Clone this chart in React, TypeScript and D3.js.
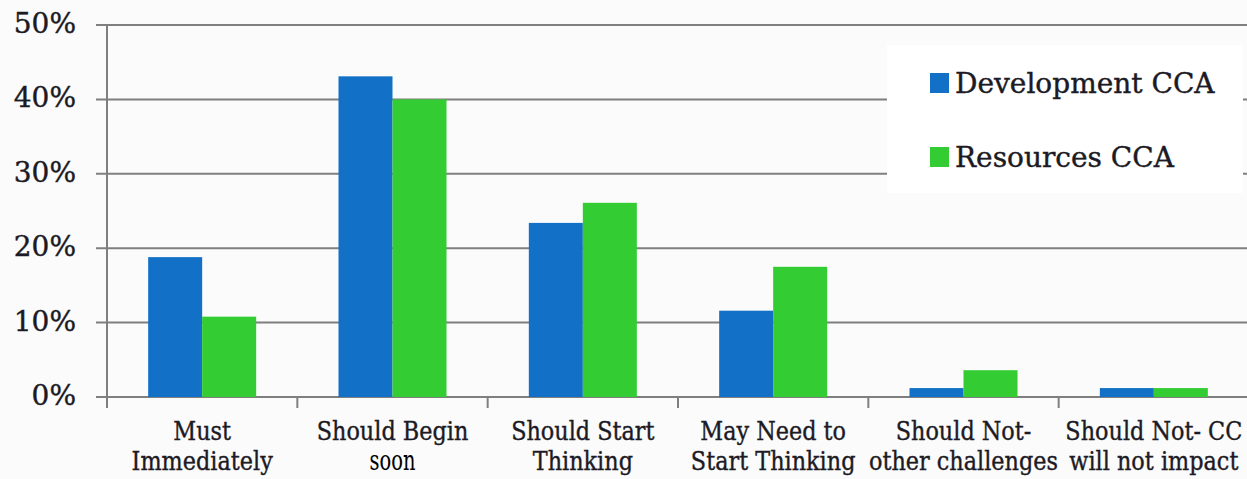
import React from "react";
import * as d3 from "d3";

const categories: string[][] = [
  ["Must", "Immediately"],
  ["Should Begin", "soon"],
  ["Should Start", "Thinking"],
  ["May Need to", "Start Thinking"],
  ["Should Not-", "other challenges"],
  ["Should Not- CC", "will not impact"],
];
const seriesNames = ["Development CCA", "Resources CCA"];
const development = [18.8, 43.1, 23.4, 11.6, 1.2, 1.2];
const resources = [10.8, 40.0, 26.1, 17.5, 3.6, 1.2];
const yTicks = [0, 10, 20, 30, 40, 50];
const colors = ["#1270c7", "#33cc33"];

const W = 1247;
const H = 479;

export default function App() {
  const x0 = 107;
  const x1 = 1249;
  const y = d3.scaleLinear().domain([0, 50]).range([397, 25]);
  const xb = d3
    .scaleBand<number>()
    .domain(categories.map((_, i) => i))
    .range([x0, x1])
    .paddingInner(0)
    .paddingOuter(0);
  const bw = xb.bandwidth();
  const barW = 54;
  const series = [development, resources];
  const font = "'DejaVu Serif', serif";
  const textColor = "#1c1a24";
  const gridColor = "#7f7f7f";

  return (
    <div style={{ position: "fixed", left: 0, top: 0 }}>
      <svg width={W} height={H} style={{ display: "block", background: "#fbfbfb" }}>
        {/* gridlines */}
        {yTicks.map((t) => (
          <line
            key={"g" + t}
            x1={96}
            x2={W}
            y1={y(t)}
            y2={y(t)}
            stroke={gridColor}
            strokeWidth={2}
          />
        ))}
        {/* y axis */}
        <line x1={x0} x2={x0} y1={y(50)} y2={y(0) + 11} stroke={gridColor} strokeWidth={2} />
        {/* x ticks */}
        {categories.map((_, i) => (
          <line
            key={"xt" + i}
            x1={(xb(i) as number) + bw}
            x2={(xb(i) as number) + bw}
            y1={y(0)}
            y2={y(0) + 11}
            stroke={gridColor}
            strokeWidth={2}
          />
        ))}
        {/* y tick labels */}
        {yTicks.map((t) => (
          <text
            key={"yl" + t}
            x={76}
            y={y(t) + 8}
            textAnchor="end"
            fontFamily={font}
            fontSize={28}
            fill={textColor}
            stroke={textColor}
            strokeWidth={0.4}
          >
            {t + "%"}
          </text>
        ))}
        {/* bars */}
        {series.map((vals, s) =>
          vals.map((v, i) => {
            const cx = (xb(i) as number) + bw / 2;
            return (
              <rect
                key={"b" + s + "-" + i}
                x={cx - barW + s * barW}
                y={y(v)}
                width={barW}
                height={y(0) - y(v)}
                fill={colors[s]}
              />
            );
          })
        )}
        {/* category labels */}
        {categories.map((lines, i) => {
          const cx = (xb(i) as number) + bw / 2;
          return lines.map((ln, k) => {
            const plain = i === 1 && k === 1;
            return (
              <text
                key={"c" + i + "-" + k}
                transform={`translate(${cx},${440 + k * 30}) scale(${plain ? 0.72 : 0.86},1)`}
                textAnchor="middle"
                fontFamily={font}
                fontSize={plain ? 27 : 26}
                fill={plain ? "#000" : textColor}
                stroke={plain ? "none" : textColor}
                strokeWidth={0.4}
              >
                {ln}
              </text>
            );
          });
        })}
        {/* legend */}
        <rect x={887} y={45} width={356} height={148} fill="#ffffff" />
        {seriesNames.map((n, s) => (
          <g key={"l" + s}>
            <rect x={930} y={73 + s * 74} width={19} height={20} fill={colors[s]} />
            <text
              x={955}
              y={93 + s * 74}
              fontFamily={font}
              fontSize={28}
              fill={textColor}
              stroke={textColor}
              strokeWidth={0.4}
            >
              {n}
            </text>
          </g>
        ))}
      </svg>
    </div>
  );
}
